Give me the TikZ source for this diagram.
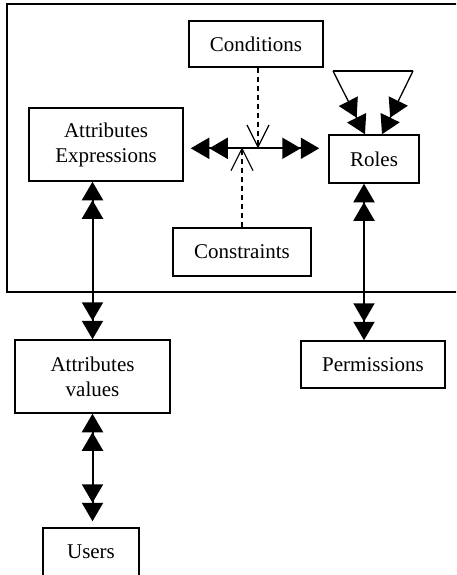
\documentclass[tikz,border=0pt]{standalone}
\usepackage{fontspec}
\setmainfont{Liberation Serif}
\usetikzlibrary{arrows.meta}
\tikzset{
  dt/.tip={Triangle[length=18.5pt,width=21pt]Triangle[length=18.5pt,width=21pt]},
  vb/.tip={Straight Barb[length=22pt,width=22pt,line width=1.2pt]},
  box/.style={draw,line width=1.5pt,inner sep=0pt,align=center,font=\fontsize{21}{25}\selectfont},
  dh/.style={dt-dt,line width=2pt},
  dsh/.style={-vb,line width=1.3pt,dash pattern=on 5.5pt off 3.5pt}
}
\begin{document}
\begin{tikzpicture}[x=1pt,y=-1pt]
\useasboundingbox (0,0) rectangle (456,575);
\clip (0,0) rectangle (456,575);
\draw[line width=1.6pt] (6.7,4.3) rectangle (470,292);
\node[box,minimum width=134pt,minimum height=46pt] (Cond) at (256,44) {Conditions};
\node[box,minimum width=154pt,minimum height=73pt] (AE) at (106,144.5) {Attributes\\Expressions};
\node[box,minimum width=90pt,minimum height=48pt] (Roles) at (374,159) {Roles};
\node[box,minimum width=138pt,minimum height=48pt] (Cons) at (242,252) {Constraints};
\node[box,minimum width=155pt,minimum height=73pt] (AV) at (92.5,376.5) {Attributes\\values};
\node[box,minimum width=144pt,minimum height=47pt] (Perm) at (373,364.5) {Permissions};
\node[box,minimum width=96pt,minimum height=48pt] (Users) at (91,552) {Users};
\coordinate (J) at (258,148.3);
\coordinate (R) at (364,0);
\coordinate (T1) at (333,71);
\coordinate (T2) at (413,71);
\draw[dh,shorten <=7pt,shorten >=9pt] (AE.east |- J) -- (Roles.west |- J);
\draw[dsh] (Cond.south -| J) -- (J);
\draw[dsh,shorten >=-1pt] (Cons.north) -- (Cons.north |- J);
\draw[dh] (AE.south -| AV.north) -- (AV.north);
\draw[dh] (Roles.south -| R) -- (Perm.north -| R);
\draw[dh,shorten >=6pt] (AV.south) -- (AV.south |- Users.north);
\draw[line width=1.3pt] (T1) -- (T2);
\draw[line width=1.3pt,-dt] (T1) -- ([xshift=-9pt]Roles.north);
\draw[line width=1.3pt,-dt] (T2) -- ([xshift=8pt]Roles.north);
\end{tikzpicture}
\end{document}
